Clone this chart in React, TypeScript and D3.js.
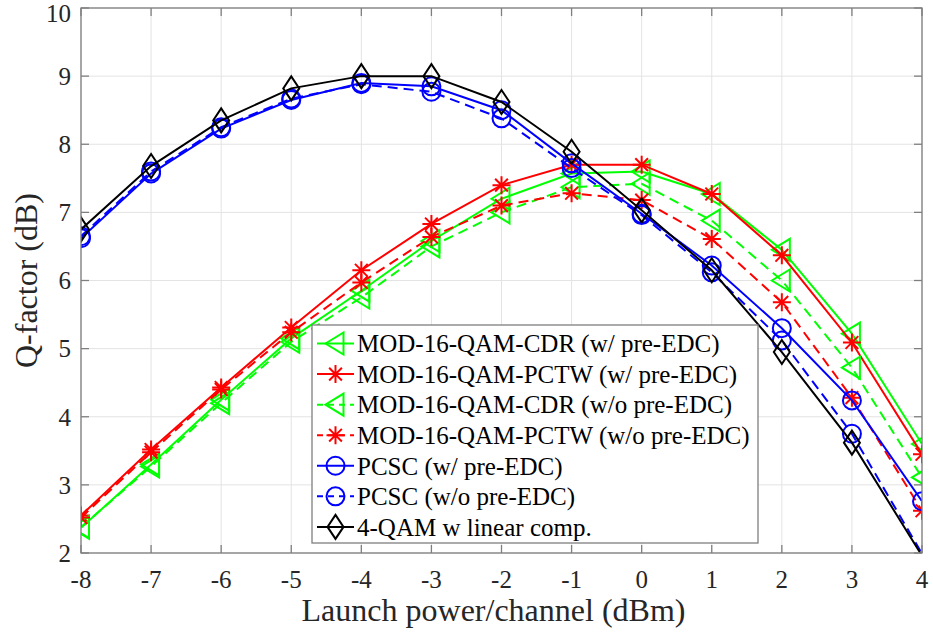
import React from "react";
import * as d3 from "d3";

// launch power per channel (dBm)
const launchPower = [-8, -7, -6, -5, -4, -3, -2, -1, 0, 1, 2, 3, 4];

// Q-factor (dB)
const cdrWithEdc = [2.37, 3.3, 4.25, 5.15, 5.85, 6.58, 7.2, 7.57, 7.6, 7.27, 6.45, 5.22, 3.6];
const pctwWithEdc = [2.55, 3.52, 4.43, 5.31, 6.15, 6.83, 7.4, 7.7, 7.7, 7.27, 6.37, 5.09, 3.45];
const cdrNoEdc = [2.38, 3.27, 4.2, 5.1, 5.75, 6.5, 7.0, 7.37, 7.42, 6.88, 6.0, 4.72, 3.11];
const pctwNoEdc = [2.52, 3.48, 4.4, 5.24, 5.97, 6.64, 7.1, 7.28, 7.18, 6.61, 5.68, 4.28, 2.62];
const pcscWithEdc = [6.62, 7.57, 8.23, 8.65, 8.9, 8.85, 8.5, 7.72, 6.98, 6.22, 5.3, 4.24, 2.76];
const pcscNoEdc = [6.65, 7.6, 8.25, 8.67, 8.88, 8.77, 8.38, 7.65, 6.96, 6.12, 5.12, 3.75, 1.99];
const qam4Linear = [6.75, 7.68, 8.35, 8.82, 9.0, 9.0, 8.62, 7.89, 7.03, 6.15, 4.95, 3.62, 1.96];

const xTicks = [-8, -7, -6, -5, -4, -3, -2, -1, 0, 1, 2, 3, 4];
const yTicks = [2, 3, 4, 5, 6, 7, 8, 9, 10];

type Marker = "tri" | "star" | "circle" | "diamond";

const series: { name: string; values: number[]; color: string; dashed: boolean; marker: Marker }[] = [
  { name: "MOD-16-QAM-CDR (w/ pre-EDC)", values: cdrWithEdc, color: "#00ff00", dashed: false, marker: "tri" },
  { name: "MOD-16-QAM-PCTW (w/ pre-EDC)", values: pctwWithEdc, color: "#ff0000", dashed: false, marker: "star" },
  { name: "MOD-16-QAM-CDR (w/o pre-EDC)", values: cdrNoEdc, color: "#00ff00", dashed: true, marker: "tri" },
  { name: "MOD-16-QAM-PCTW (w/o pre-EDC)", values: pctwNoEdc, color: "#ff0000", dashed: true, marker: "star" },
  { name: "PCSC (w/ pre-EDC)", values: pcscWithEdc, color: "#0000ff", dashed: false, marker: "circle" },
  { name: "PCSC (w/o pre-EDC)", values: pcscNoEdc, color: "#0000ff", dashed: true, marker: "circle" },
  { name: "4-QAM w linear comp.", values: qam4Linear, color: "#000000", dashed: false, marker: "diamond" },
];

const FONT =
  "'Times New Roman', Times, 'Liberation Serif', Tinos, 'Nimbus Roman', 'Noto Serif', 'DejaVu Serif', FreeSerif, serif";

const MarkerGlyph = ({ type, x, y, color }: { type: Marker; x: number; y: number; color: string }) => {
  const common = { fill: "none", stroke: color, strokeWidth: 2 };
  if (type === "circle") return <circle cx={x} cy={y} r={9} {...common} />;
  if (type === "diamond")
    return <path d={`M${x},${y - 12}L${x + 8},${y}L${x},${y + 12}L${x - 8},${y}Z`} {...common} />;
  if (type === "tri")
    return <path d={`M${x - 10},${y}L${x + 8},${y - 11}L${x + 8},${y + 11}Z`} {...common} />;
  const r = 9;
  const d = r * 0.7071;
  return (
    <path
      d={`M${x - r},${y}L${x + r},${y}M${x},${y - r}L${x},${y + r}M${x - d},${y - d}L${x + d},${y + d}M${x - d},${y + d}L${x + d},${y - d}`}
      {...common}
    />
  );
};

export default function App() {
  const width = 933;
  const height = 634;
  const margin = { top: 8, right: 11, bottom: 81, left: 81 };

  const x = d3.scaleLinear().domain([-8, 4]).range([margin.left, width - margin.right]);
  const y = d3.scaleLinear().domain([2, 10]).range([height - margin.bottom, margin.top]);

  const line = d3
    .line<number>()
    .x((_, i) => x(launchPower[i]))
    .y((d) => y(d));

  const [x0, x1] = x.range();
  const [y0, y1] = y.range();
  const axisColor = "#7f7f7f";
  const tick = 8;

  const legend = { x: 312, y: 325, w: 446, h: 218, row: 30.57 };

  return (
    <div style={{ position: "absolute", left: 0, top: 0, fontFamily: FONT }}>
      <svg width={width} height={height} style={{ display: "block", background: "#fff", fontFamily: FONT }}>
        <defs>
          <clipPath id="plot-clip">
            <rect x={x0} y={y1} width={x1 - x0} height={y0 - y1} />
          </clipPath>
        </defs>

        {/* grid */}
        {xTicks.map((t) => (
          <line key={"gx" + t} x1={x(t)} x2={x(t)} y1={y1} y2={y0} stroke="#e3e3e3" strokeWidth={1} />
        ))}
        {yTicks.map((t) => (
          <line key={"gy" + t} x1={x0} x2={x1} y1={y(t)} y2={y(t)} stroke="#e3e3e3" strokeWidth={1} />
        ))}

        {/* series */}
        <g clipPath="url(#plot-clip)">
          {series.map((s) => (
            <g key={s.name}>
              <path
                d={line(s.values) || ""}
                fill="none"
                stroke={s.color}
                strokeWidth={2}
                strokeDasharray={s.dashed ? "10,6" : undefined}
              />
              {s.values.map((v, i) =>
                v >= 2 && v <= 10 ? (
                  <MarkerGlyph key={i} type={s.marker} x={x(launchPower[i])} y={y(v)} color={s.color} />
                ) : null
              )}
            </g>
          ))}
        </g>

        {/* axes box with inward ticks */}
        <rect x={x0} y={y1} width={x1 - x0} height={y0 - y1} fill="none" stroke={axisColor} strokeWidth={1.3} />
        {xTicks.map((t) => (
          <g key={"tx" + t}>
            <line x1={x(t)} x2={x(t)} y1={y0} y2={y0 - tick} stroke={axisColor} strokeWidth={1.3} />
            <line x1={x(t)} x2={x(t)} y1={y1} y2={y1 + tick} stroke={axisColor} strokeWidth={1.3} />
            <text x={x(t)} y={y0 + 35} textAnchor="middle" fontSize={25} fill="#262626">
              {t}
            </text>
          </g>
        ))}
        {yTicks.map((t) => (
          <g key={"ty" + t}>
            <line x1={x0} x2={x0 + tick} y1={y(t)} y2={y(t)} stroke={axisColor} strokeWidth={1.3} />
            <line x1={x1} x2={x1 - tick} y1={y(t)} y2={y(t)} stroke={axisColor} strokeWidth={1.3} />
            <text x={x0 - 10} y={Math.max(y(t), 13)} dy="0.35em" textAnchor="end" fontSize={25} fill="#262626">
              {t}
            </text>
          </g>
        ))}

        {/* axis labels */}
        <text x={(x0 + x1) / 2 - 8} y={621} textAnchor="middle" fontSize={32} fill="#262626">
          Launch power/channel (dBm)
        </text>
        <text
          transform={`translate(26,${(y0 + y1) / 2}) rotate(-90)`}
          dy="0.35em"
          textAnchor="middle"
          fontSize={32}
          fill="#262626"
        >
          Q-factor (dB)
        </text>

        {/* legend */}
        <rect x={legend.x} y={legend.y} width={legend.w} height={legend.h} fill="#fff" stroke={axisColor} strokeWidth={1.3} />
        {series.map((s, i) => {
          const cy = legend.y + 18.5 + i * legend.row;
          return (
            <g key={"lg" + s.name}>
              <line
                x1={legend.x + 5}
                x2={legend.x + 42}
                y1={cy}
                y2={cy}
                stroke={s.color}
                strokeWidth={2}
                strokeDasharray={s.dashed ? "6,5" : undefined}
              />
              <MarkerGlyph type={s.marker} x={legend.x + 23.5} y={cy} color={s.color} />
              <text x={legend.x + 45} y={cy} dy="0.35em" fontSize={25} fill="#000">
                {s.name}
              </text>
            </g>
          );
        })}
      </svg>
    </div>
  );
}
